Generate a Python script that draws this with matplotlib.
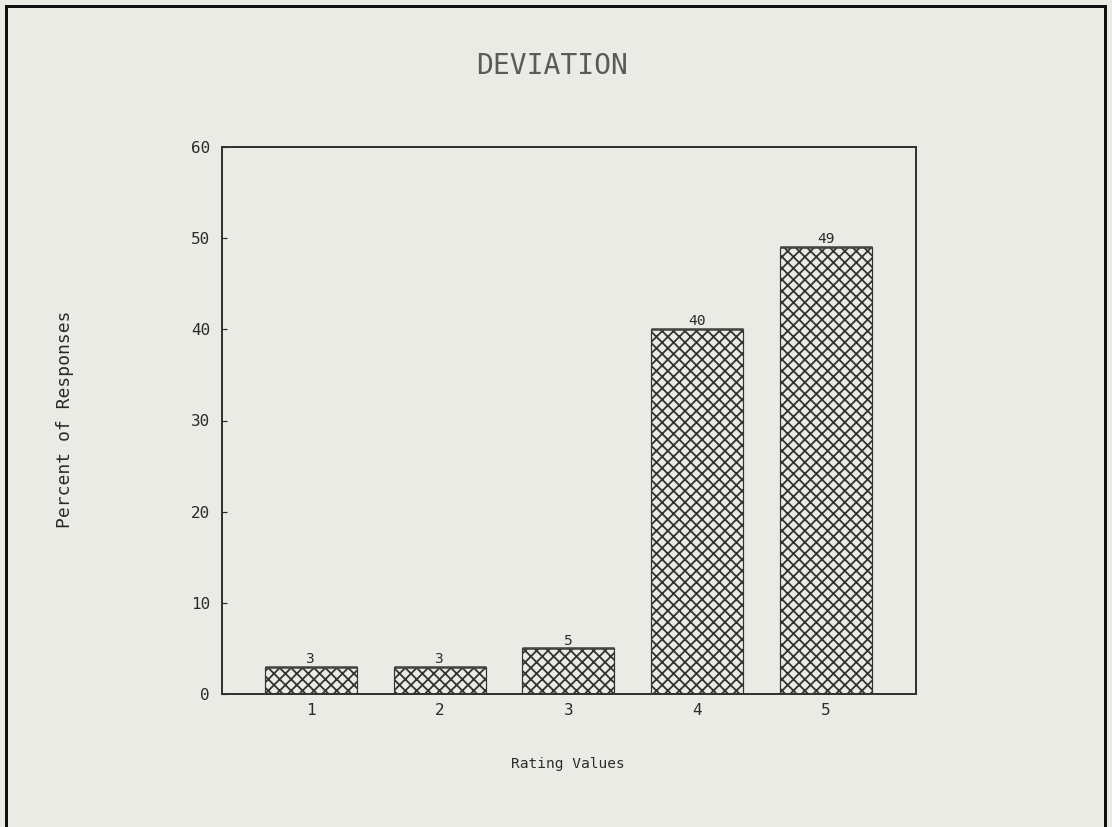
import matplotlib
matplotlib.use("Agg")
import matplotlib.pyplot as plt
from matplotlib.lines import Line2D

ratings = [1, 2, 3, 4, 5]
percents = [3, 3, 5, 40, 49]
tick_labels = ["1", "2", "3", "4", "5"]

# dpi picked so that the 'xxxx' hatch has roughly the reference's spacing
DPI = 137
W, H = 1112, 827


def px(p):
    # pixels -> points at this dpi
    return p * 72.0 / DPI


bg = "#ebebe5"
ink = "#2a2a2a"
mono = ["DejaVu Sans Mono"]
plt.rcParams['hatch.linewidth'] = 0.95
plt.rcParams['hatch.color'] = "#1e1e1e"

fig = plt.figure(figsize=(W / DPI, H / DPI), dpi=DPI, facecolor=bg)
ax = fig.add_axes([222 / W, 1 - 694 / H, (916 - 222) / W, (694 - 147) / H], facecolor=bg)

bars = ax.bar(ratings, percents, width=0.715, color=bg, edgecolor="#333333",
              hatch="xxxx", linewidth=px(1.2))
for b, v in zip(bars, percents):
    x0 = b.get_x()
    ax.plot([x0, x0 + b.get_width()], [v, v], color="#444444", lw=px(2.5), solid_capstyle="butt")
    ax.text(x0 + b.get_width() / 2, v + 0.1, str(v), ha="center", va="bottom",
            fontsize=px(14.5), family=mono, color=ink)

ax.set_xlim(0.31, 5.70)
ax.set_ylim(0, 60)
ax.set_xticks(ratings)
ax.set_xticklabels(tick_labels, family=mono)
ax.set_yticks(range(0, 61, 10))
ax.set_yticklabels([str(v) for v in range(0, 61, 10)], family=mono)
ax.tick_params(axis="x", length=0, labelsize=px(16), colors=ink, pad=px(9))
ax.tick_params(axis="y", direction="in", length=px(5), width=px(1.2), labelsize=px(16),
               colors=ink, pad=px(12))
for s in ax.spines.values():
    s.set_color("#333333")
    s.set_linewidth(px(2))

fig.text(552 / W, 1 - 66 / H, "DEVIATION", ha="center", va="center", fontsize=px(28),
         family=mono, color="#5a5a5a")
fig.text(568 / W, 1 - 764 / H, "Rating Values", ha="center", va="center", fontsize=px(14.5),
         family=mono, color=ink)
fig.text(65 / W, 1 - 419 / H, "Percent of Responses", ha="center", va="center",
         fontsize=px(18), family=mono, rotation=90, color=ink)

# outer frame (left, top, right)
for xs, ys in [([6, 6], [827, 6]), ([6, 1105], [6, 6]), ([1105, 1105], [6, 827])]:
    fig.add_artist(Line2D([x / W for x in xs], [1 - y / H for y in ys], color="#111111",
                          linewidth=px(3), transform=fig.transFigure))

fig.savefig("out.png", dpi=DPI, facecolor=bg)
